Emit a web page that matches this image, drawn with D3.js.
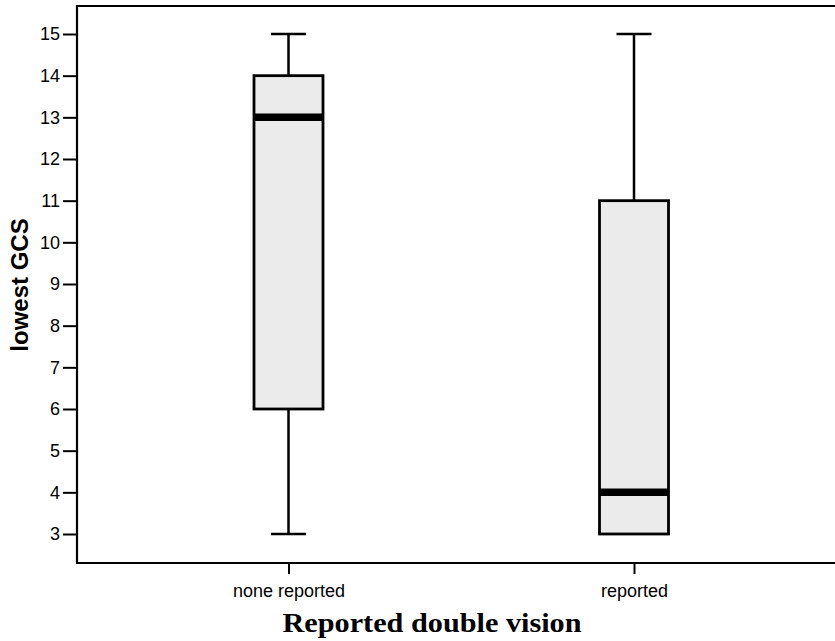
<!DOCTYPE html>
<html>
<head>
<meta charset="utf-8">
<script src="https://cdn.jsdelivr.net/npm/d3@7"></script>
<style>
  html, body { margin: 0; padding: 0; background: #fff; }
  svg { display: block; }
</style>
</head>
<body>
<svg id="chart" width="835" height="641"></svg>
<script>
// ---- data ----
const categories = ["none reported", "reported"];
const whiskerLow  = [3, 3];
const q1          = [6, 3];
const medians     = [13, 4];
const q3          = [14, 11];
const whiskerHigh = [15, 15];
const yTicks = [3, 4, 5, 6, 7, 8, 9, 10, 11, 12, 13, 14, 15];
const yTitle = "lowest GCS";
const xTitle = "Reported double vision";

const boxes = categories.map((c, i) => ({
  cat: c, lo: whiskerLow[i], q1: q1[i], med: medians[i], q3: q3[i], hi: whiskerHigh[i]
}));

// ---- layout ----
const svg = d3.select("#chart");
const mLeft = 77, mRight = 835, mTop = 6, mBottom = 563;

const y = d3.scaleLinear().domain([3, 15]).range([534, 34]);
const x = d3.scalePoint().domain(categories).range([288.5, 634]);
const boxW = 69, capW = 35;

// frame: left, top, bottom (no right border visible)
svg.append("line").attr("x1", mLeft).attr("x2", mRight).attr("y1", mTop).attr("y2", mTop)
  .attr("stroke", "#000").attr("stroke-width", 2.2);
svg.append("line").attr("x1", mLeft).attr("x2", mRight).attr("y1", mBottom).attr("y2", mBottom)
  .attr("stroke", "#000").attr("stroke-width", 2.2);

// y axis
const yAxis = d3.axisLeft(y).tickValues(yTicks).tickSize(14).tickPadding(3).tickFormat(d3.format("d"));
const gy = svg.append("g").attr("transform", `translate(${mLeft},0)`).call(yAxis);
gy.select(".domain").remove();
gy.append("line").attr("x1", 0).attr("x2", 0).attr("y1", mTop - 1).attr("y2", mBottom + 1)
  .attr("stroke", "#000").attr("stroke-width", 2.2);
gy.selectAll(".tick line").attr("stroke", "#000").attr("stroke-width", 2);
gy.selectAll(".tick text").attr("fill", "#000")
  .style("font-family", "Arial, 'Liberation Sans', sans-serif").style("font-size", "18px");

// x axis
const xAxis = d3.axisBottom(x).tickSize(11).tickPadding(10);
const gx = svg.append("g").attr("transform", `translate(0,${mBottom})`).call(xAxis);
gx.select(".domain").remove();
gx.selectAll(".tick line").attr("stroke", "#000").attr("stroke-width", 2);
gx.selectAll(".tick text").attr("fill", "#000")
  .style("font-family", "Arial, 'Liberation Sans', sans-serif").style("font-size", "18px");

// boxes
const g = svg.append("g");
const b = g.selectAll("g.box").data(boxes).join("g").attr("class", "box");

// whiskers
b.append("line").attr("x1", d => x(d.cat)).attr("x2", d => x(d.cat))
  .attr("y1", d => y(d.hi)).attr("y2", d => y(d.q3))
  .attr("stroke", "#000").attr("stroke-width", 2.5);
b.append("line").attr("x1", d => x(d.cat)).attr("x2", d => x(d.cat))
  .attr("y1", d => y(d.q1)).attr("y2", d => y(d.lo))
  .attr("stroke", "#000").attr("stroke-width", 2.5);
// caps
b.append("line").attr("x1", d => x(d.cat) - capW / 2).attr("x2", d => x(d.cat) + capW / 2)
  .attr("y1", d => y(d.hi)).attr("y2", d => y(d.hi))
  .attr("stroke", "#000").attr("stroke-width", 2.5);
b.filter(d => d.lo < d.q1).append("line")
  .attr("x1", d => x(d.cat) - capW / 2).attr("x2", d => x(d.cat) + capW / 2)
  .attr("y1", d => y(d.lo)).attr("y2", d => y(d.lo))
  .attr("stroke", "#000").attr("stroke-width", 2.5);
// box
b.append("rect").attr("x", d => x(d.cat) - boxW / 2).attr("width", boxW)
  .attr("y", d => y(d.q3)).attr("height", d => y(d.q1) - y(d.q3))
  .attr("fill", "#ebebeb").attr("stroke", "#000").attr("stroke-width", 2.8);
// median
b.append("line").attr("x1", d => x(d.cat) - boxW / 2).attr("x2", d => x(d.cat) + boxW / 2)
  .attr("y1", d => y(d.med)).attr("y2", d => y(d.med))
  .attr("stroke", "#000").attr("stroke-width", 7.5);

// titles
svg.append("text").attr("transform", `translate(28,285) rotate(-90)`)
  .attr("text-anchor", "middle")
  .style("font-family", "Arial, 'Liberation Sans', sans-serif")
  .style("font-weight", "bold").style("font-size", "24px")
  .text(yTitle);

svg.append("text").attr("x", 432).attr("y", 632)
  .attr("text-anchor", "middle")
  .style("font-family", "'Times New Roman', 'Liberation Serif', serif")
  .style("font-weight", "bold").style("font-size", "28px")
  .attr("textLength", 299).attr("lengthAdjust", "spacingAndGlyphs")
  .text(xTitle);
</script>
</body>
</html>
